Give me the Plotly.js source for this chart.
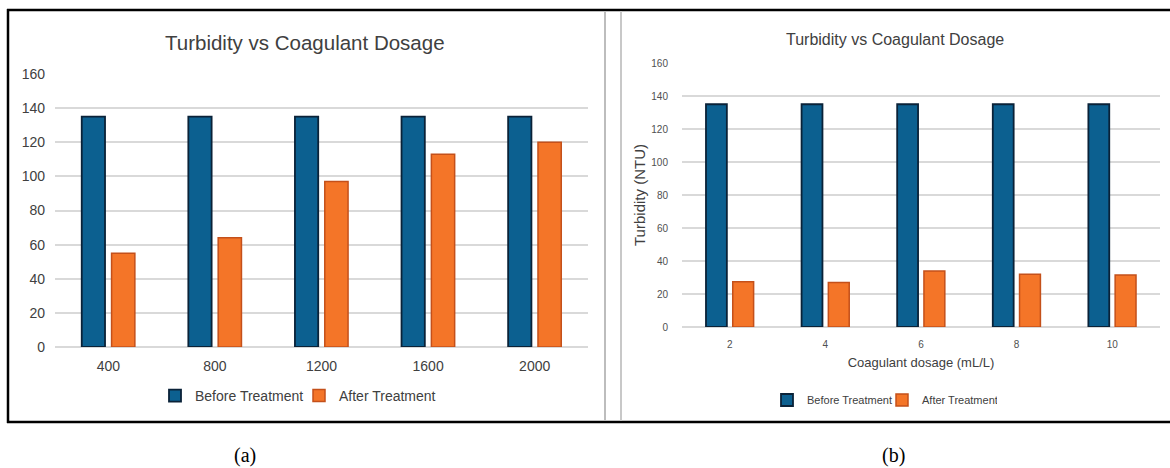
<!DOCTYPE html>
<html><head><meta charset="utf-8">
<script src="https://cdn.plot.ly/plotly-3.0.1.min.js"></script>
<style>html,body{margin:0;padding:0;background:#fff}#chart{width:1170px;height:468px}</style>
</head><body><div id="chart"></div>
<script>
// ---- data ----
const dosageA = ['400', '800', '1200', '1600', '2000'];
const beforeA = [135, 135, 135, 135, 135];
const afterA  = [55, 64, 97, 113, 120];

const dosageB = ['2', '4', '6', '8', '10'];
const beforeB = [135, 135, 135, 135, 135];
const afterB  = [27.5, 27, 34, 32, 31.5];

const yTickVals = [0, 20, 40, 60, 80, 100, 120, 140, 160];
const seriesNames = ['Before Treatment', 'After Treatment'];
const chartTitle = 'Turbidity vs Coagulant Dosage';
const yTitleB = 'Turbidity (NTU)';
const xTitleB = 'Coagulant dosage (mL/L)';
const captions = ['(a)', '(b)'];

// ---- style ----
const W = 1170, H = 468;
const F = "'Liberation Sans',Arial,sans-serif";
const SERIF = "'Liberation Serif','Times New Roman',serif";
const blue = '#0c6090', blueLine = '#0a2238';
const orange = '#f47528', orangeLine = '#c4501a';
const txt = '#404040';
const px = x => x / W;
const py = y => 1 - y / H;

const traces = [
  {type: 'bar', x: dosageA, y: beforeA, name: seriesNames[0], xaxis: 'x', yaxis: 'y', legend: 'legend',
   marker: {color: blue, line: {color: blueLine, width: 1.8}}, hoverinfo: 'x+y'},
  {type: 'bar', x: dosageA, y: afterA, name: seriesNames[1], xaxis: 'x', yaxis: 'y', legend: 'legend',
   marker: {color: orange, line: {color: orangeLine, width: 1.5}}, hoverinfo: 'x+y'},
  {type: 'bar', x: dosageB, y: beforeB, name: seriesNames[0], xaxis: 'x2', yaxis: 'y2', legend: 'legend2',
   marker: {color: blue, line: {color: blueLine, width: 1.8}}, hoverinfo: 'x+y'},
  {type: 'bar', x: dosageB, y: afterB, name: seriesNames[1], xaxis: 'x2', yaxis: 'y2', legend: 'legend2',
   marker: {color: orange, line: {color: orangeLine, width: 1.5}}, hoverinfo: 'x+y'}
];

const gridC = '#d9d9d9';
const baseY = {
  range: [0, 160], tickvals: yTickVals, showgrid: true, gridcolor: gridC, gridwidth: 1.5,
  zeroline: true, zerolinecolor: gridC, zerolinewidth: 1.5, showline: false, ticks: '', fixedrange: true
};
const baseX = {type: 'category', showgrid: false, zeroline: false, showline: false, ticks: '', fixedrange: true};

const layout = {
  width: W, height: H,
  margin: {l: 0, r: 0, t: 0, b: 0},
  paper_bgcolor: '#ffffff', plot_bgcolor: 'rgba(0,0,0,0)',
  barmode: 'group', bargap: 0.44, bargroupgap: 0.22,
  font: {family: F, color: txt},
  xaxis: Object.assign({}, baseX, {domain: [px(55), px(588)], anchor: 'y', ticklabelstandoff: 9,
    tickfont: {family: F, size: 14, color: txt}}),
  yaxis: Object.assign({}, baseY, {domain: [py(347), py(74)], anchor: 'x', ticklabelstandoff: 9,
    tickfont: {family: F, size: 14, color: txt}}),
  xaxis2: Object.assign({}, baseX, {domain: [px(682), px(1160)], anchor: 'y2', ticklabelstandoff: 10,
    tickfont: {family: F, size: 10, color: '#505050'},
    title: {text: xTitleB, font: {family: F, size: 13, color: txt}, standoff: 8}}),
  yaxis2: Object.assign({}, baseY, {domain: [py(327), py(63)], anchor: 'x2', ticklabelstandoff: 13,
    tickfont: {family: F, size: 10, color: '#505050'},
    title: {text: yTitleB, font: {family: F, size: 15, color: txt}, standoff: 2}}),
  showlegend: true,
  legend: {orientation: 'h', x: px(155), y: py(396), xanchor: 'left', yanchor: 'middle', entrywidth: 99,
    font: {family: F, size: 14, color: txt}, bgcolor: 'rgba(0,0,0,0)', itemclick: false, itemdoubleclick: false},
  legend2: {orientation: 'h', x: px(767), y: py(400), xanchor: 'left', yanchor: 'middle', entrywidth: 70,
    font: {family: F, size: 11, color: txt}, bgcolor: 'rgba(0,0,0,0)', itemclick: false, itemdoubleclick: false},
  annotations: [
    {text: chartTitle, xref: 'paper', yref: 'paper', x: px(305), y: py(42), xanchor: 'center', yanchor: 'middle',
     showarrow: false, font: {family: F, size: 20.5, color: txt}},
    {text: chartTitle, xref: 'paper', yref: 'paper', x: px(895), y: py(39), xanchor: 'center', yanchor: 'middle',
     showarrow: false, font: {family: F, size: 16, color: txt}},
    {text: captions[0], xref: 'paper', yref: 'paper', x: px(245), y: py(455), xanchor: 'center', yanchor: 'middle',
     showarrow: false, font: {family: SERIF, size: 20, color: '#000000'}},
    {text: captions[1], xref: 'paper', yref: 'paper', x: px(893), y: py(455), xanchor: 'center', yanchor: 'middle',
     showarrow: false, font: {family: SERIF, size: 20, color: '#000000'}}
  ],
  shapes: [
    {type: 'line', xref: 'paper', yref: 'paper', x0: px(7), x1: 1, y0: py(10), y1: py(10), line: {color: '#000', width: 2.5}},
    {type: 'line', xref: 'paper', yref: 'paper', x0: px(7), x1: 1, y0: py(422), y1: py(422), line: {color: '#000', width: 2.5}},
    {type: 'line', xref: 'paper', yref: 'paper', x0: px(8), x1: px(8), y0: py(9), y1: py(423), line: {color: '#000', width: 2.5}},
    {type: 'line', xref: 'paper', yref: 'paper', x0: px(605), x1: px(605), y0: py(11), y1: py(421), line: {color: '#bdbdbd', width: 2}},
    {type: 'line', xref: 'paper', yref: 'paper', x0: px(621), x1: px(621), y0: py(11), y1: py(421), line: {color: '#c8c8c8', width: 2}}
  ]
};

Plotly.newPlot('chart', traces, layout, {displayModeBar: false, responsive: false});
</script>
</body></html>
